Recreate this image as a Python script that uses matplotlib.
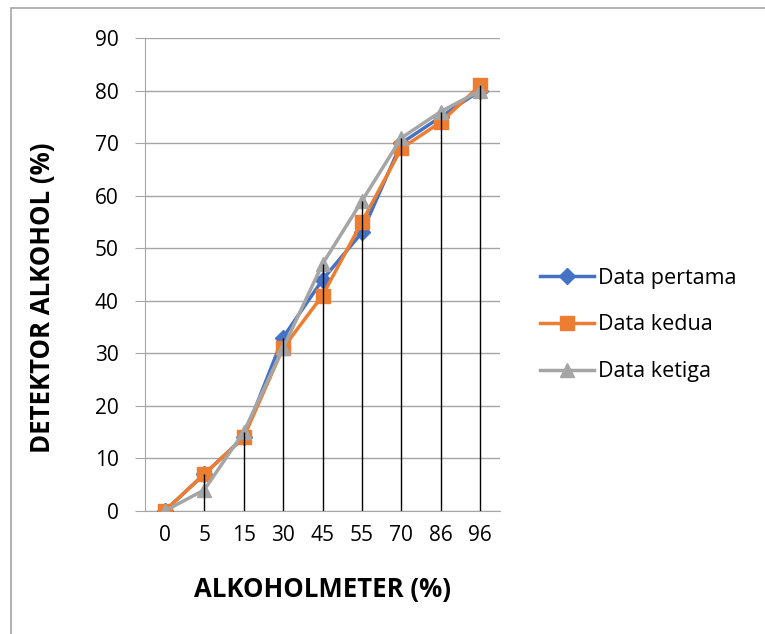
import matplotlib.pyplot as plt
import matplotlib.patches as patches
import numpy as np

# ---------- data ----------
categories = ['0', '5', '15', '30', '45', '55', '70', '86', '96']
data_pertama = [0, 7, 14, 33, 44, 53, 70, 75, 80]
data_kedua = [0, 7, 14, 31, 41, 55, 69, 74, 81]
data_ketiga = [0, 4, 15, 31, 47, 59, 71, 76, 80]
y_ticks = [0, 10, 20, 30, 40, 50, 60, 70, 80, 90]

plt.rcParams['font.family'] = ['Open Sans', 'DejaVu Sans']

fig = plt.figure(figsize=(7.65, 6.34), dpi=100)
ax = fig.add_axes([145 / 765, 1 - 511 / 634, 355 / 765, 473 / 634])

# outer chart border (cropped at right and bottom)
fig.patches.append(patches.Rectangle((11 / 765, -0.05), 1.2, 1 - 8 / 634 + 0.05,
                                     transform=fig.transFigure, fill=False,
                                     edgecolor='#a6a6a6', linewidth=1.2))

x = np.arange(len(categories))

ax.plot(x, data_pertama, color='#4472C4', lw=2.5, marker='D', ms=8,
        label='Data pertama', zorder=3)
ax.plot(x, data_kedua, color='#ED7D31', lw=2.5, marker='s', ms=10,
        label='Data kedua', zorder=4)
ax.plot(x, data_ketiga, color='#A5A5A5', lw=2.5, marker='^', ms=10.5,
        label='Data ketiga', zorder=5)

# drop lines from the highest point of each category
tops = np.max([data_pertama, data_kedua, data_ketiga], axis=0)
ax.vlines(x, 0, tops, color='black', lw=1.0, zorder=6)

ax.set_xlim(-0.5, len(categories) - 0.5)
ax.set_ylim(0, 90)
ax.set_yticks(y_ticks)
ax.set_xticks(x)
ax.set_xticklabels(categories)
ax.yaxis.grid(True, color='#a6a6a6', lw=1.0)
ax.set_axisbelow(True)

for side in ['top', 'right']:
    ax.spines[side].set_visible(False)
ax.spines['left'].set_color('#a6a6a6')
ax.spines['bottom'].set_color('#a6a6a6')
ax.tick_params(axis='y', length=7, color='#a6a6a6', labelsize=15, pad=12)
ax.tick_params(axis='x', length=0, labelsize=15, pad=10)

ax.set_xlabel('ALKOHOLMETER (%)', fontsize=18.5, fontweight='bold')
ax.set_ylabel('DETEKTOR ALKOHOL (%)', fontsize=18.5, fontweight='bold')
ax.xaxis.set_label_coords((322 - 145) / 355, (511 - 590) / 473)
ax.yaxis.set_label_coords((43 - 145) / 355, (511 - 298) / 473)
ax.xaxis.label.set_va('center')
ax.yaxis.label.set_va('center')

ax.legend(loc='center left', bbox_to_anchor=(540 / 765, 1 - 325 / 634),
          bbox_transform=fig.transFigure, frameon=False, fontsize=15.5,
          handlelength=2.5, labelspacing=1.2, handletextpad=0.2,
          borderaxespad=0, borderpad=0)

fig.savefig('out.png', dpi=100)
